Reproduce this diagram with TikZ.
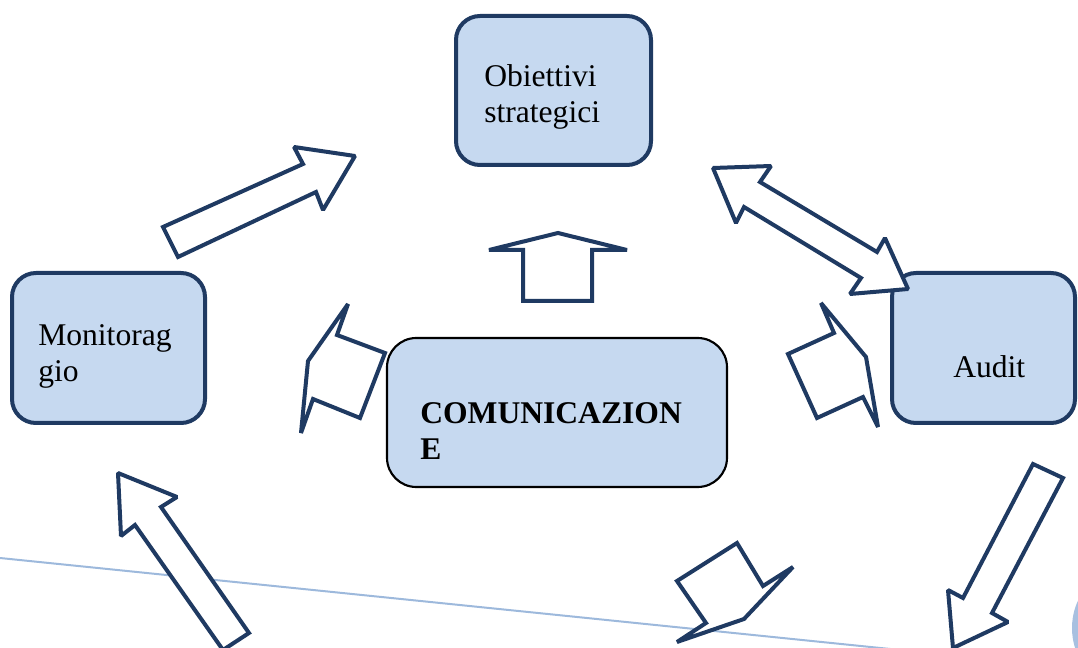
\documentclass[tikz,border=0pt]{standalone}
\usepackage{fontspec}
\setmainfont{Liberation Serif}
\definecolor{dkblue}{HTML}{1F3A62}
\definecolor{boxfill}{HTML}{C6D9F0}
\definecolor{lineblue}{HTML}{9DB9DC}
\definecolor{circblue}{HTML}{A8C0E0}
\begin{document}
\begin{tikzpicture}[x=0.75pt,y=-0.75pt,
  bigbox/.style={draw=dkblue,line width=3pt,fill=boxfill,rounded corners=18pt,inner sep=0pt},
  combox/.style={draw=black,line width=1.6pt,fill=boxfill,rounded corners=22pt,inner sep=0pt},
  blockarrow/.style={draw=dkblue,line width=3pt,fill=white,line join=miter,miter limit=1.6},
  txt/.style={anchor=base west,inner sep=0pt,font=\fontsize{23.7}{26.3}\selectfont}]
\useasboundingbox (0,0) rectangle (1078,648);
\begin{scope}
\clip (0,0) rectangle (1078,648);
% thin line and partial circle
\coordinate (l1) at (0,558);
\coordinate (l2) at (900,650);
\draw[lineblue,line width=1.5pt] (l1) -- (l2);
\fill[circblue] (1112,628) ellipse [x radius=40, y radius=52];

% boxes
\node[bigbox,minimum width=146.25pt,minimum height=111.75pt] (obj) at (553.5,90.5) {};
\node[bigbox,minimum width=144.75pt,minimum height=112.5pt] (mon) at (108.5,348) {};
\node[bigbox,minimum width=137.25pt,minimum height=112.5pt] (aud) at (983.5,348) {};
\node[combox,minimum width=255pt,minimum height=111.75pt] (com) at (557,412.5) {};

% texts
\node[txt] (objt) at (484,87) {\begin{tabular}[t]{@{}l@{}}Obiettivi\\strategici\end{tabular}};
\node[txt] (mont) at (38,346) {\begin{tabular}[t]{@{}l@{}}Monitorag\\gio\end{tabular}};
\node[txt] (audt) at (953,378) {Audit};
\node[txt] (comt) at (420,424) {\bfseries\begin{tabular}[t]{@{}l@{}}COMUNICAZION\\E\end{tabular}};

% block arrows
% Monitoraggio -> Obiettivi
\draw[blockarrow] (163,227) -- (303,164) -- (294,147) -- (355,156) -- (323,210) -- (316,192) -- (178,257) -- cycle;
% Obiettivi <-> Audit
\draw[blockarrow] (713,168) -- (771,166) -- (760,182) -- (877,252) -- (885,238) -- (908,289) -- (850,294) -- (861,278) -- (744,207) -- (736,223) -- cycle;
% central up arrow
\draw[blockarrow] (558,233) -- (627,250) -- (592,250) -- (592,301) -- (523,301) -- (523,250) -- (489,250) -- cycle;
% left small arrow
\draw[blockarrow] (348,304) -- (337,335) -- (385,353) -- (360,418) -- (313,399) -- (301,433) -- (308,361) -- cycle;
% right small arrow
\draw[blockarrow] (821,303) -- (834,333) -- (788,354) -- (817,418) -- (863,397) -- (878,427) -- (866,357) -- cycle;
% bottom centre arrow
\draw[blockarrow] (677,581) -- (737,543) -- (763,586) -- (793,567) -- (744,619) -- (677,642) -- (706,623) -- cycle;
% Audit -> down
\draw[blockarrow] (1033,464) -- (1063,478) -- (992,613) -- (1008,622) -- (953,648) -- (948,590) -- (963,598) -- cycle;
% bottom-left up arrow
\draw[blockarrow] (118,473) -- (177,497) -- (161,507) -- (249,633) -- (223,650) -- (135,525) -- (121,536) -- cycle;
\end{scope}
\end{tikzpicture}
\end{document}
